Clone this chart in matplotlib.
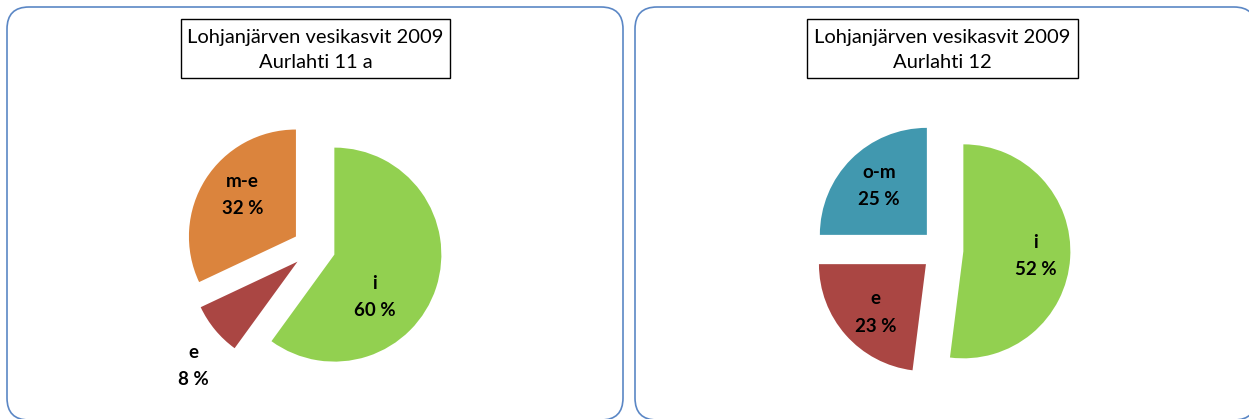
import matplotlib
matplotlib.use('Agg')
import numpy as np
import matplotlib.pyplot as plt
from matplotlib.patches import FancyBboxPatch, Rectangle

plt.rcParams['font.family'] = ['Lato', 'DejaVu Sans']

# data
title_line = 'Lohjanjärven vesikasvit 2009'
subtitles = ['Aurlahti 11 a', 'Aurlahti 12']

labels_a = ['i', 'e', 'm-e']
values_a = [60, 8, 32]
labels_b = ['i', 'e', 'o-m']
values_b = [52, 23, 25]

colors_a = ['#92D050', '#AA4643', '#DB843D']
colors_b = ['#92D050', '#AA4643', '#4198AF']

W, H = 1249, 419
fig = plt.figure(figsize=(W / 100, H / 100), dpi=100)

# background axes in pixel units (y down)
bg = fig.add_axes([0, 0, 1, 1])
bg.set_xlim(0, W)
bg.set_ylim(H, 0)
bg.axis('off')

# panel frames
for x0, x1 in [(7, 623), (635, 1256)]:
    bg.add_patch(FancyBboxPatch((x0, 7), x1 - x0, 420 - 7,
                                boxstyle='round,pad=0,rounding_size=22',
                                fc='white', ec='#5B87C5', lw=1.2))

# title boxes
title_boxes = [(181, 450), (807, 1078)]
for (x0, x1), sub in zip(title_boxes, subtitles):
    bg.add_patch(Rectangle((x0, 19), x1 - x0, 59, fc='white', ec='black', lw=1))
    cx = (x0 + x1) / 2
    bg.text(cx, 37, title_line, ha='center', va='center', fontsize=14.5)
    bg.text(cx, 62, sub, ha='center', va='center', fontsize=14.5)

R = 107  # pie radius in px
S = 320  # pie axes size in px
L = S / 2 / R


def draw_pie(center, values, labels, colors, label_pos):
    cx, cy = center
    ax = fig.add_axes([(cx - S / 2) / W, 1 - (cy + S / 2) / H, S / W, S / H])
    wedges, _ = ax.pie(values, colors=colors, startangle=90, counterclock=False,
                       explode=[0.2] * len(values), radius=1,
                       wedgeprops=dict(linewidth=0))
    ax.set_xlim(-L, L)
    ax.set_ylim(-L, L)
    ax.set_aspect('equal')
    ax.axis('off')
    for lab, v, (ang, r) in zip(labels, values, label_pos):
        t = np.deg2rad(ang)
        ax.text(r * np.cos(t), r * np.sin(t), '%s\n%d %%' % (lab, v),
                ha='center', va='center', fontsize=13.5, fontweight='bold',
                linespacing=1.75)


# label placement (angle deg, radius) relative to pie centre
draw_pie((314, 248), values_a, labels_a, colors_a,
         [(-38.8, 0.73), (224.3, 1.58), (143.3, 0.83)])
draw_pie((942, 250), values_b, labels_b, colors_b,
         [(-3.6, 0.88), (223.2, 0.85), (134.6, 0.84)])

plt.savefig('out.png', dpi=100)
